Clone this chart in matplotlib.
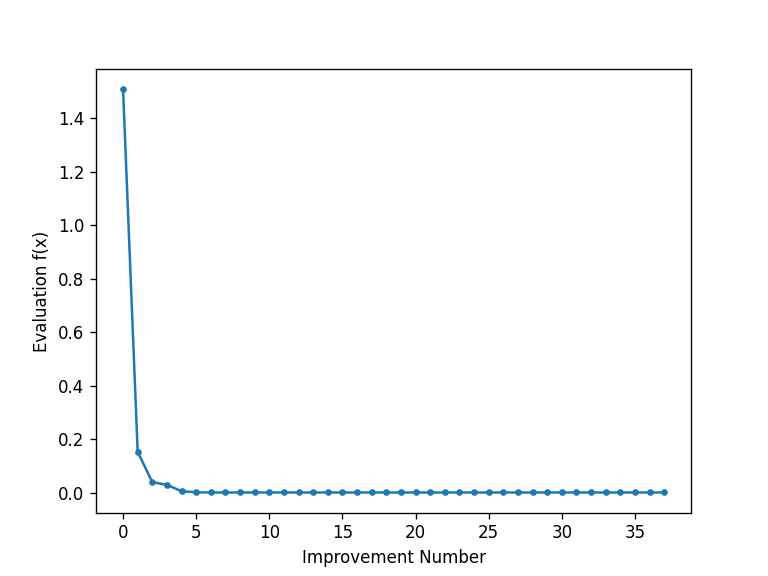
import matplotlib
matplotlib.use("Agg")
import matplotlib.pyplot as plt

improvement = list(range(38))
evaluation = [1.508, 0.152, 0.039, 0.029, 0.005, 0.001] + [0.0003] * 32

fig, ax = plt.subplots(figsize=(6.4, 4.8), dpi=120)
ax.plot(improvement, evaluation, marker='.', color='#1f77b4')
ax.set_xlabel('Improvement Number')
ax.set_ylabel('Evaluation f(x)')
fig.savefig('out.png', dpi=120)
